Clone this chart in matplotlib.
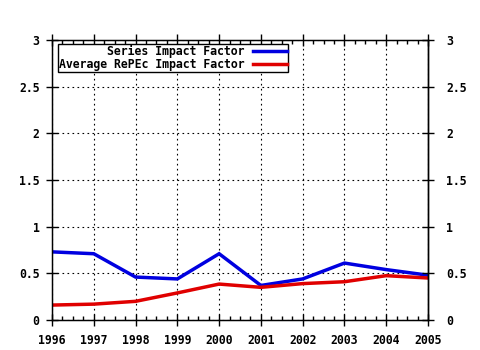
import matplotlib.pyplot as plt
from matplotlib.ticker import MultipleLocator

# data
years = [1996, 1997, 1998, 1999, 2000, 2001, 2002, 2003, 2004, 2005]
series_if = [0.73, 0.71, 0.46, 0.44, 0.71, 0.37, 0.44, 0.61, 0.54, 0.48]
repec_if = [0.16, 0.17, 0.20, 0.29, 0.385, 0.35, 0.39, 0.41, 0.475, 0.45]
yticks = [0, 0.5, 1, 1.5, 2, 2.5, 3]
ytick_labels = ['0', '0.5', '1', '1.5', '2', '2.5', '3']

plt.rcParams['font.family'] = 'DejaVu Sans Mono'
plt.rcParams['font.weight'] = 'bold'
plt.rcParams['font.size'] = 8

fig = plt.figure(figsize=(4.8, 3.5), dpi=100)
ax = fig.add_axes([52/480, 30/350, 376/480, 280/350])

ax.plot(years, series_if, color='#0000e0', lw=2.5, label='Series Impact Factor', solid_joinstyle='miter')
ax.plot(years, repec_if, color='#e00000', lw=2.5, label='Average RePEc Impact Factor', solid_joinstyle='miter')

ax.set_xlim(1996, 2005)
ax.set_ylim(0, 3)
ax.set_xticks(years)
ax.set_xticklabels([str(y) for y in years])
ax.xaxis.set_minor_locator(MultipleLocator(0.25))
ax.set_yticks(yticks)
ax.set_yticklabels(ytick_labels)

ax.grid(True, which='major', color='black', linestyle=(0, (1.5, 3)), lw=0.8)
for s in ax.spines.values():
    s.set_linewidth(1.0)
    s.set_color('black')

ax.tick_params(axis='x', which='major', direction='inout', length=8, width=1, top=True, pad=6, labelsize=8.3)
ax.tick_params(axis='x', which='minor', direction='in', length=3, width=1, top=True)
ax.tick_params(axis='y', which='major', direction='inout', length=8, width=1, right=False, pad=5, labelsize=8.3)

# right axis copies the left one
ax2 = ax.twinx()
ax2.set_ylim(0, 3)
ax2.set_yticks(yticks)
ax2.set_yticklabels(ytick_labels)
ax2.tick_params(axis='y', direction='inout', length=8, width=1, pad=9, labelsize=8.3)
ax2.spines['right'].set_linewidth(1.0)

leg = ax.legend(loc='upper left', bbox_to_anchor=(0.016, 0.986), borderaxespad=0,
                markerfirst=False, fancybox=False, framealpha=1, edgecolor='black',
                handlelength=2.95, handletextpad=0.7, borderpad=0.1, labelspacing=0.0,
                fontsize=8.3)
leg.get_frame().set_linewidth(1.0)

fig.savefig('out.png', dpi=100)
